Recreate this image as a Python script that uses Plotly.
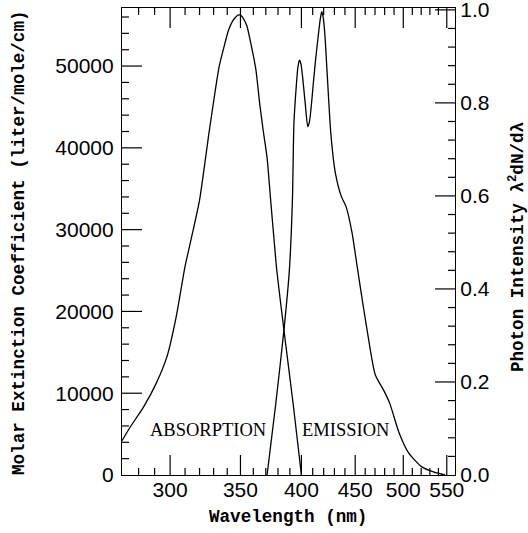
import plotly.graph_objects as go
import numpy as np

# Absorption: wavelength (nm) vs molar extinction coefficient (liter/mole/cm)
abs_wl = [270, 275, 283, 291, 298, 304, 310, 315, 320, 327, 334, 338, 341, 344, 347, 349,
          351, 353, 355, 358, 362, 365, 368, 371, 374, 377, 379, 385, 393, 400]
abs_eps = [4200, 5900, 8300, 11200, 14500, 19300, 25500, 29500, 33600, 42200, 49900, 52600,
           54400, 55500, 56100, 56250, 56100, 55600, 54900, 52800, 49600, 45500, 42000, 38800,
           33500, 28300, 25000, 17700, 8500, 0]

# Emission: wavelength (nm) vs photon intensity (normalised)
em_wl = [371, 378, 385, 389.6, 392.2, 393.5, 395.7, 397, 398.3, 399.6, 401, 403.3, 405.6,
         407, 408.4, 410.5, 412.6, 415.3, 417, 418.2, 419.5, 421, 423.2, 426.6, 430.9, 436.7,
         441.1, 447, 451.5, 456, 462.4, 470.3, 478.8, 485.4, 495.6, 506.1, 520.4, 535, 548]
em_int = [0.0, 0.15, 0.312, 0.441, 0.591, 0.756, 0.842, 0.878, 0.892, 0.884, 0.857, 0.80, 0.749,
          0.758, 0.785, 0.84, 0.892, 0.95, 0.982, 0.996, 0.985, 0.950, 0.864, 0.735, 0.649, 0.598,
          0.577, 0.520, 0.455, 0.391, 0.305, 0.215, 0.183, 0.154, 0.090, 0.047, 0.018, 0.006, 0.0]

# tick positions
x_major = [300, 350, 400, 450, 500, 550]
x_minor = [280, 290, 310, 320, 330, 340, 360, 370, 380, 390, 410, 420, 430, 440,
           460, 470, 480, 490, 510, 520, 530, 540]
y1_major = [10000, 20000, 30000, 40000, 50000]
y1_minor = [2000, 4000, 6000, 8000, 12000, 14000, 16000, 18000, 22000, 24000, 26000, 28000,
            32000, 34000, 36000, 38000, 42000, 44000, 46000, 48000, 52000, 54000, 56000]
y2_major = [0.2, 0.4, 0.6, 0.8, 1.0]
y2_minor = [0.04, 0.08, 0.12, 0.16, 0.24, 0.28, 0.32, 0.36, 0.44, 0.48, 0.52, 0.56,
            0.64, 0.68, 0.72, 0.76, 0.84, 0.88, 0.92, 0.96]

x_lo, x_hi = 270, 560
y1_hi = 57100
y2_hi = 1.004

W, H = 528, 533
ML, MR, MT, MB = 122, 73, 8, 58
plot_w, plot_h = W - ML - MR, H - MT - MB
MAJ, MIN = 20, 7  # tick lengths in px

# convert tick lengths (px) to axis units
def xfac(px):
    return 10 ** (px / plot_w * np.log10(x_hi / x_lo))

def y1len(px):
    return px / plot_h * y1_hi

fig = go.Figure()
fig.add_trace(go.Scatter(x=abs_wl, y=abs_eps, mode="lines", line_shape="spline",
                         line=dict(color="black", width=1.3, smoothing=0.6),
                         xaxis="x", yaxis="y", showlegend=False, hoverinfo="skip"))
fig.add_trace(go.Scatter(x=em_wl, y=em_int, mode="lines", line_shape="spline",
                         line=dict(color="black", width=1.3, smoothing=0.6),
                         xaxis="x", yaxis="y2", showlegend=False, hoverinfo="skip"))

# tick marks (inside) on bottom, top and left, in y1 units
tx, ty = [], []
for vals, px in ((x_major, MAJ), (x_minor, MIN)):
    for v in vals:
        tx += [v, v, None, v, v, None]
        ty += [0, y1len(px), None, y1_hi, y1_hi - y1len(px), None]
for vals, px in ((y1_major, MAJ), (y1_minor, MIN)):
    for v in vals:
        tx += [x_lo, x_lo * xfac(px), None]
        ty += [v, v, None]
fig.add_trace(go.Scatter(x=tx, y=ty, mode="lines", line=dict(color="black", width=1.2),
                         xaxis="x", yaxis="y", showlegend=False, hoverinfo="skip"))
# tick marks on the right axis, in y2 units
rx, ry = [], []
for vals, px in ((y2_major, MAJ), (y2_minor, MIN)):
    for v in vals:
        rx += [x_hi, x_hi / xfac(px), None]
        ry += [v, v, None]
fig.add_trace(go.Scatter(x=rx, y=ry, mode="lines", line=dict(color="black", width=1.2),
                         xaxis="x", yaxis="y2", showlegend=False, hoverinfo="skip"))

tickfont = dict(family="Liberation Sans", size=21, color="black")
titlefont = dict(family="Liberation Mono", size=17.6, color="black", weight="bold")

common = dict(ticks="", showgrid=False, zeroline=False, tickfont=tickfont, automargin=False,
              showline=True, linecolor="black", linewidth=1.2)

fig.update_layout(
    template="none",
    width=W, height=H,
    margin=dict(l=ML, r=MR, t=MT, b=MB),
    plot_bgcolor="white", paper_bgcolor="white",
    xaxis=dict(type="log", range=[np.log10(x_lo), np.log10(x_hi)],
               tickmode="linear", tick0=0, dtick="L50", mirror=True,
               ticklabelstandoff=-4, **common),
    yaxis=dict(range=[0, y1_hi], tickmode="linear", tick0=0, dtick=10000,
               tickformat="d", ticklabelstandoff=3, **common),
    yaxis2=dict(range=[0, y2_hi], overlaying="y", side="right", anchor="x",
                tickmode="linear", tick0=0, dtick=0.2, tickformat=".1f",
                ticklabeloverflow="allow", **common),
    annotations=[
        dict(text="Molar Extinction Coefficient (liter/mole/cm)", xref="paper", yref="paper",
             x=-0.309, y=0.497, textangle=-90, showarrow=False, font=titlefont,
             xanchor="center", yanchor="middle"),
        dict(text="Photon Intensity λ<sup>2</sup>dN/dλ", xref="paper", yref="paper",
             x=1.186, y=0.49, textangle=-90, showarrow=False, font=titlefont,
             xanchor="center", yanchor="middle"),
        dict(text="Wavelength (nm)", xref="paper", yref="paper",
             x=0.498, y=-0.09, showarrow=False, font=titlefont,
             xanchor="center", yanchor="middle"),
        dict(text="ABSORPTION", xref="paper", yref="paper", x=0.257, y=0.0964,
             showarrow=False, font=dict(family="Liberation Serif", size=18.5, color="black"),
             xanchor="center", yanchor="middle"),
        dict(text="EMISSION", xref="paper", yref="paper", x=0.670, y=0.0964,
             showarrow=False, font=dict(family="Liberation Serif", size=18.5, color="black"),
             xanchor="center", yanchor="middle"),
    ],
)

fig.write_html("out.html", config={"displayModeBar": False},
               post_script="document.body.style.margin='0px';")
